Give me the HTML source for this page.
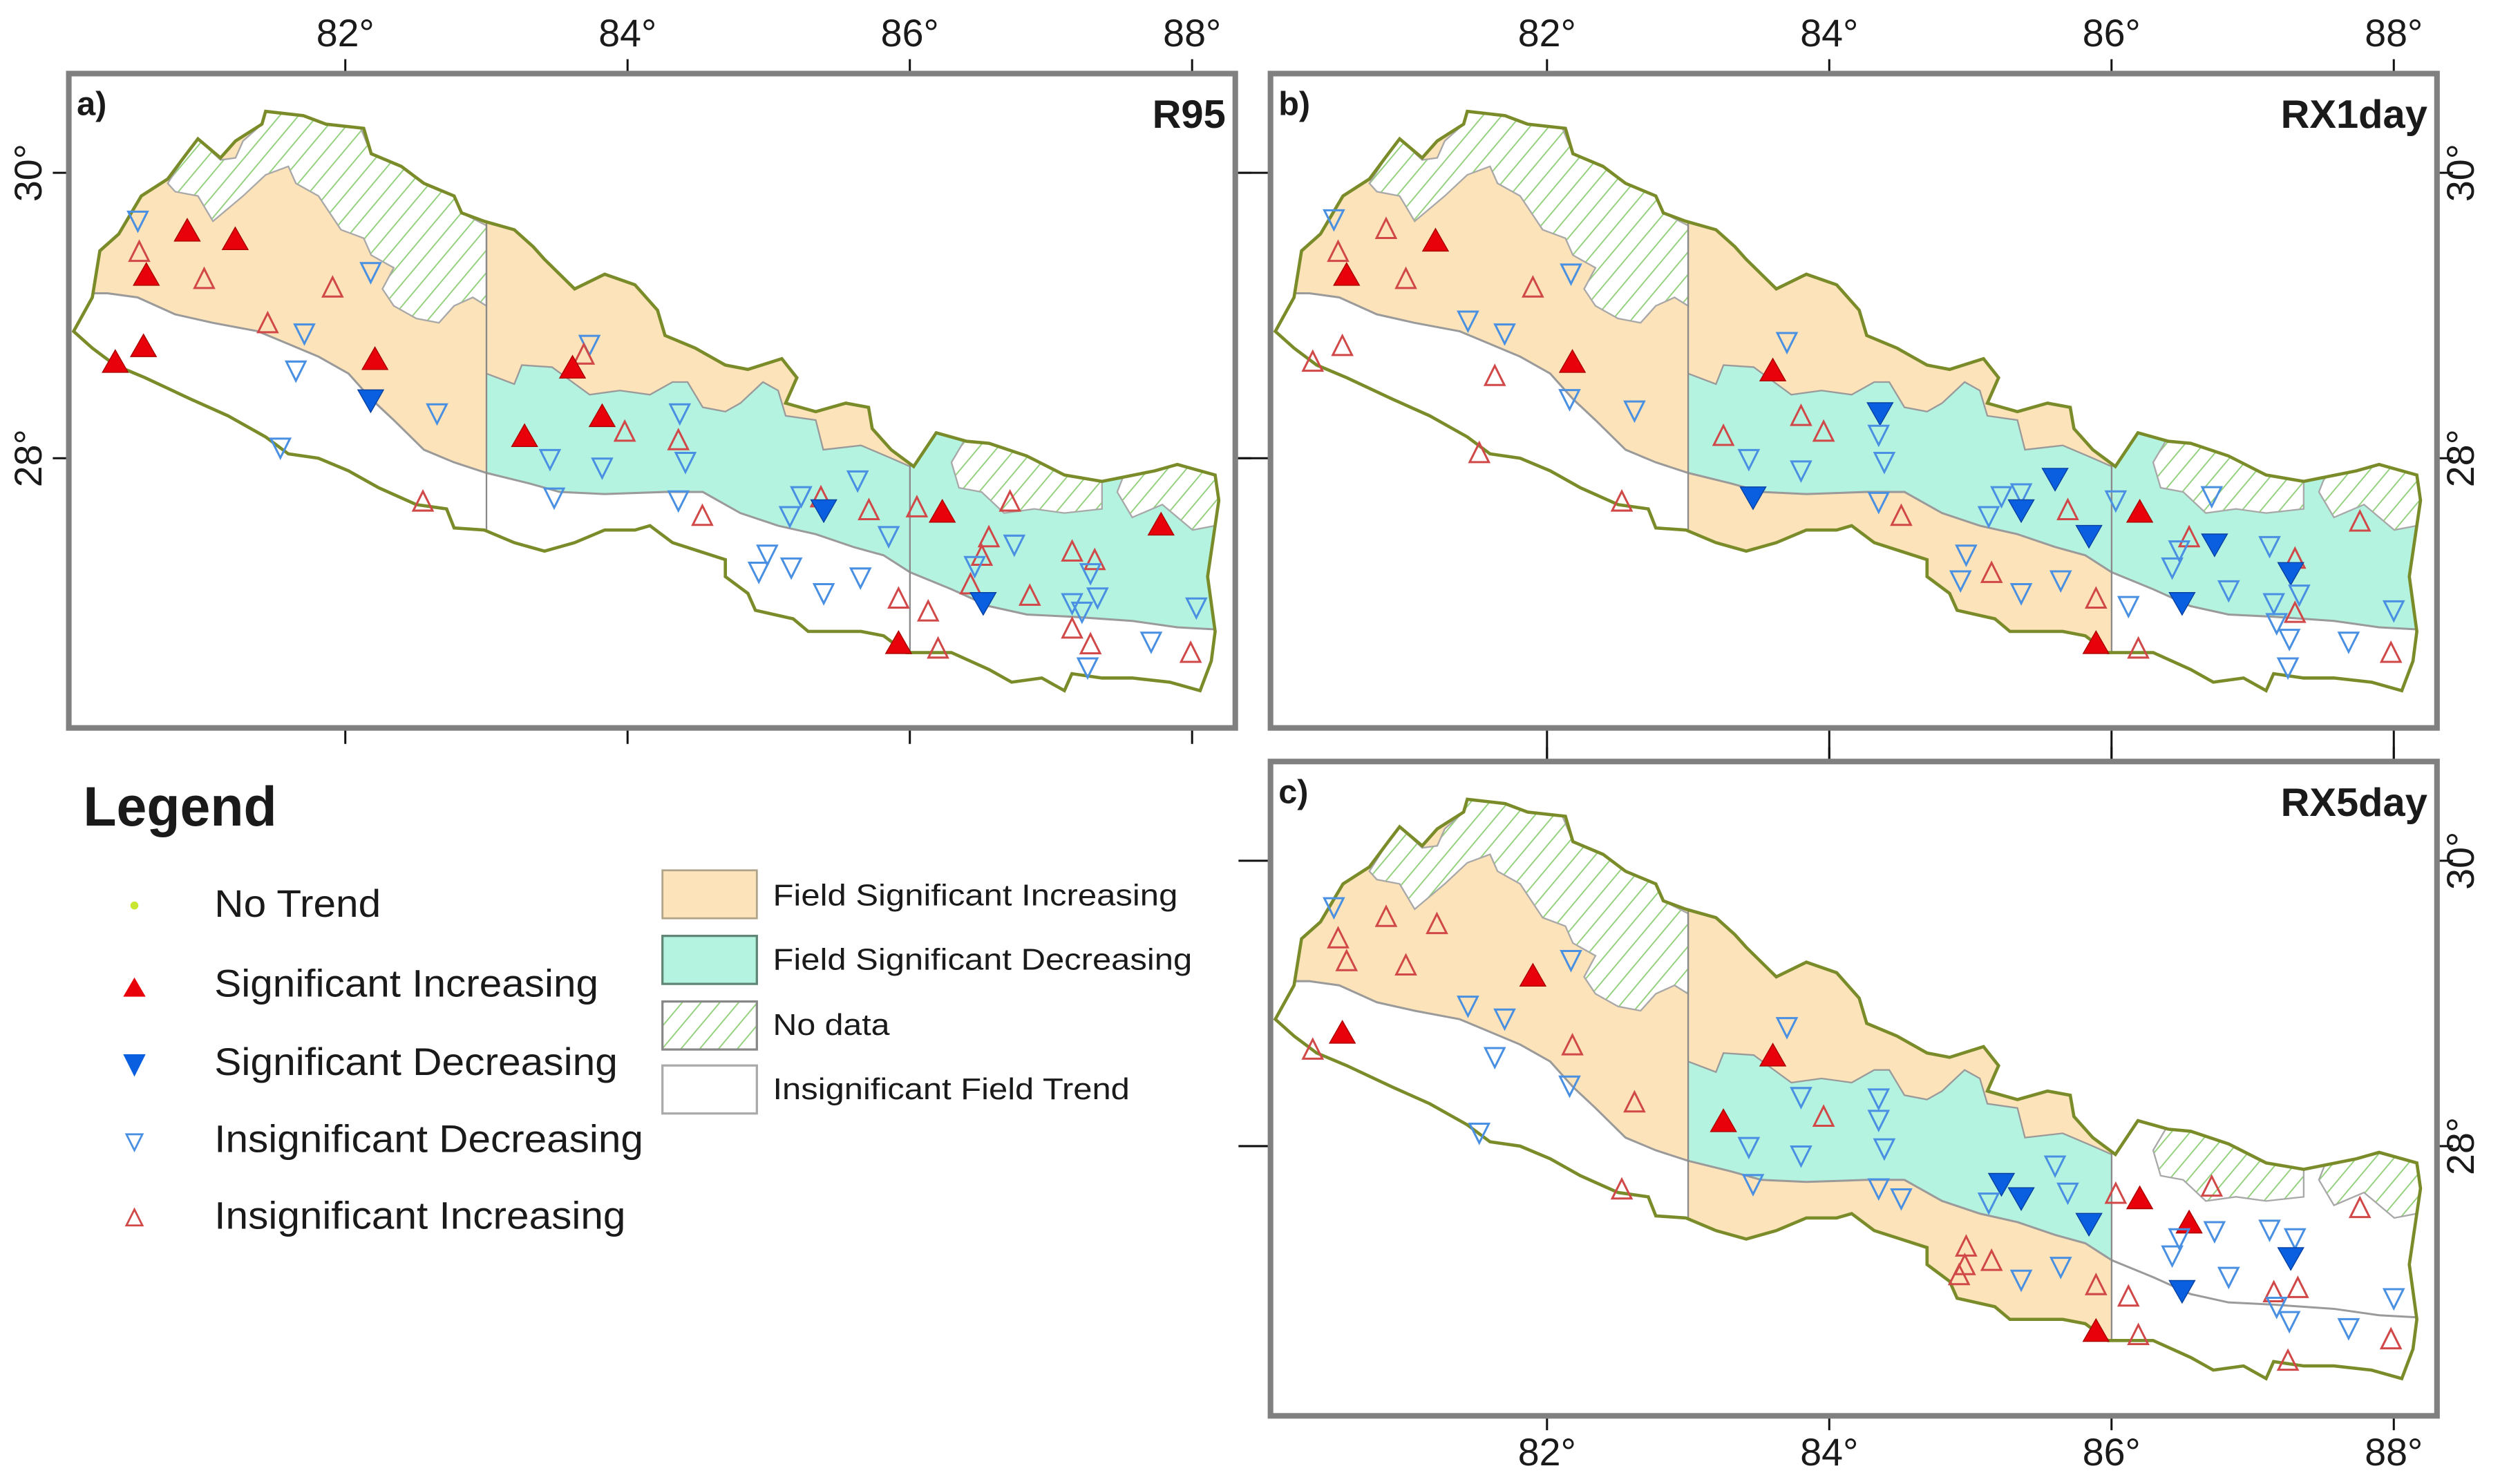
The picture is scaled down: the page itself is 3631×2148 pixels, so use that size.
<!DOCTYPE html>
<html><head><meta charset="utf-8"><style>
html,body{margin:0;padding:0;background:#fff}
svg{display:block}
text{font-family:"Liberation Sans",Arial,sans-serif;fill:#1a1a1a}
</style></head><body>
<svg id="fig" xmlns="http://www.w3.org/2000/svg" width="3631" height="2148" viewBox="0 0 1568 927.6" preserveAspectRatio="none">
<defs>
<pattern id="hatch" patternUnits="userSpaceOnUse" width="9" height="9" patternTransform="rotate(40)">
<rect width="9" height="9" fill="#fff"/><line x1="0" y1="0" x2="0" y2="9" stroke="#8fcf78" stroke-width="1.6"/>
</pattern>
</defs>
<g id="panels"></g>
<g id="legend">
<text x="52" y="516" font-size="35" font-weight="bold" textLength="121" lengthAdjust="spacingAndGlyphs">Legend</text>
<circle cx="84" cy="566" r="2.5" fill="#c8e632"/>
<text x="134" y="573" font-size="24" textLength="104" lengthAdjust="spacingAndGlyphs">No Trend</text>
<polygon points="77,623 91,623 84,611" fill="#e8000b"/>
<text x="134" y="623" font-size="24" textLength="240" lengthAdjust="spacingAndGlyphs">Significant Increasing</text>
<polygon points="77,659 91,659 84,673" fill="#0a5fe0"/>
<text x="134" y="672" font-size="24" textLength="252" lengthAdjust="spacingAndGlyphs">Significant Decreasing</text>
<polygon points="79,709 89,709 84,719" fill="none" stroke="#4a90e2" stroke-width="1.2"/>
<text x="134" y="720" font-size="24" textLength="268" lengthAdjust="spacingAndGlyphs">Insignificant Decreasing</text>
<polygon points="79,766 89,766 84,756" fill="none" stroke="#d04848" stroke-width="1.2"/>
<text x="134" y="768" font-size="24" textLength="257" lengthAdjust="spacingAndGlyphs">Insignificant Increasing</text>
<rect x="414" y="544" width="59" height="30" fill="#fde3b9" stroke="#b0a48a" stroke-width="1.2"/>
<text x="483" y="566" font-size="19" textLength="253" lengthAdjust="spacingAndGlyphs">Field Significant Increasing</text>
<rect x="414" y="585" width="59" height="30" fill="#b4f3e0" stroke="#5f8575" stroke-width="1.4"/>
<text x="483" y="606" font-size="19" textLength="262" lengthAdjust="spacingAndGlyphs">Field Significant Decreasing</text>
<rect x="414" y="626" width="59" height="30" fill="url(#hatch)" stroke="#888" stroke-width="1.4"/>
<text x="483" y="647" font-size="19" textLength="73" lengthAdjust="spacingAndGlyphs">No data</text>
<rect x="414" y="666" width="59" height="30" fill="#fff" stroke="#aaa" stroke-width="1.4"/>
<text x="483" y="687" font-size="19" textLength="223" lengthAdjust="spacingAndGlyphs">Insignificant Field Trend</text>
</g>
</svg>
<script>
// ---- data: station longitudes/latitudes and trend types per panel ----
const typesKey = ["SI","SD","ID","II"];
const aLon = [80.53,80.88,81.22,80.54,80.59,81.00,81.91,82.18,81.45,81.71,80.57,80.37,82.21,81.65,82.18,82.65,81.54,82.55,83.73,83.69,83.61,83.82,83.27,83.98,84.37,84.36,83.45,83.82,84.41,83.48,84.36,84.53,85.63,85.23,85.37,85.39,85.15,85.71,86.05,86.23,86.71,87.78,85.85,84.99,84.93,85.16,85.39,85.65,85.92,86.13,85.92,86.20,86.56,86.74,86.51,86.46,86.43,86.52,86.85,87.15,87.31,87.28,87.15,87.33,87.22,87.15,87.28,87.26,87.71,87.99,88.03];
const aLat = [29.66,29.60,29.54,29.45,29.29,29.26,29.20,29.30,28.95,28.87,28.79,28.68,28.70,28.61,28.40,28.31,28.07,27.70,28.79,28.73,28.64,28.30,28.16,28.19,28.31,28.13,27.99,27.93,27.97,27.72,27.70,27.60,27.84,27.73,27.73,27.63,27.59,27.64,27.66,27.63,27.70,27.54,27.45,27.32,27.20,27.23,27.05,27.16,27.02,26.93,26.71,26.67,27.45,27.39,27.32,27.24,27.12,26.98,27.04,27.35,27.29,27.19,26.98,27.02,26.92,26.81,26.70,26.53,26.71,26.64,26.95];
const aType = ["ID","SI","SI","II","SI","II","II","ID","II","ID","SI","SI","SI","ID","SD","ID","ID","II","ID","II","SI","SI","SI","II","ID","II","ID","ID","ID","ID","ID","II","ID","ID","II","SD","ID","II","II","SI","II","SI","ID","ID","ID","ID","ID","ID","II","II","SI","II","II","ID","II","ID","II","SD","II","II","II","ID","ID","ID","ID","II","II","ID","ID","II","ID"];
const bLon = [80.49,80.86,81.21,80.52,80.58,81.00,81.90,82.17,81.44,81.70,80.55,80.34,82.18,81.63,82.16,82.62,81.52,82.53,83.70,83.60,83.80,83.96,83.25,84.36,84.35,83.43,83.80,84.39,83.46,84.35,84.51,85.60,85.22,85.36,85.36,85.13,85.69,86.03,86.20,86.71,87.76,85.84,84.97,84.93,85.15,85.36,85.64,85.89,86.12,85.89,86.19,86.55,86.73,86.48,86.43,86.50,86.83,87.12,87.30,87.27,87.15,87.33,87.30,87.17,87.26,87.25,87.68,87.98,88.00];
const bLat = [29.67,29.61,29.53,29.45,29.29,29.26,29.20,29.29,28.96,28.87,28.79,28.68,28.68,28.58,28.41,28.33,28.04,27.70,28.81,28.62,28.30,28.19,28.16,28.31,28.16,27.99,27.91,27.97,27.72,27.69,27.60,27.85,27.73,27.75,27.63,27.59,27.64,27.70,27.63,27.73,27.56,27.45,27.32,27.14,27.20,27.05,27.14,27.02,26.96,26.71,26.67,27.45,27.39,27.35,27.23,26.98,27.07,27.38,27.30,27.19,26.98,27.04,26.92,26.84,26.73,26.53,26.71,26.64,26.93];
const bType = ["ID","II","SI","II","SI","II","II","ID","ID","ID","II","II","SI","II","ID","ID","II","II","ID","SI","II","II","II","SD","ID","ID","ID","ID","SD","ID","II","SD","ID","ID","SD","ID","II","ID","SI","ID","II","SD","ID","ID","II","ID","ID","II","ID","SI","II","II","SD","ID","ID","SD","ID","ID","II","SD","ID","ID","II","ID","ID","ID","ID","II","ID"];
const cLon = [80.49,80.86,81.22,80.52,80.58,81.00,81.90,82.17,81.44,81.70,80.55,80.34,82.18,81.63,82.16,82.62,81.52,82.53,83.70,83.60,83.80,83.96,83.25,84.35,84.35,83.43,83.80,84.39,83.46,84.35,84.51,85.60,85.22,85.36,85.13,85.69,85.84,86.03,86.20,86.71,87.76,86.55,86.73,86.48,86.43,86.50,86.83,87.12,87.30,87.27,84.97,84.96,84.92,85.15,85.36,85.64,85.89,86.12,85.89,86.19,87.15,87.32,87.17,87.26,87.25,87.68,87.98,88.00];
const cLat = [29.67,29.61,29.56,29.46,29.30,29.27,29.20,29.30,28.98,28.89,28.80,28.68,28.71,28.62,28.42,28.31,28.09,27.70,28.83,28.64,28.34,28.21,28.18,28.33,28.18,27.99,27.93,27.98,27.73,27.70,27.63,27.86,27.73,27.63,27.60,27.67,27.45,27.67,27.64,27.72,27.57,27.47,27.40,27.35,27.23,26.98,27.08,27.41,27.35,27.21,27.30,27.17,27.10,27.20,27.06,27.15,27.03,26.95,26.71,26.68,26.98,27.01,26.87,26.77,26.50,26.72,26.65,26.93];
const cType = ["ID","II","II","II","II","II","SI","ID","ID","ID","SI","II","II","ID","ID","II","ID","II","ID","SI","ID","II","SI","ID","ID","ID","ID","ID","ID","ID","ID","ID","SD","SD","ID","ID","SD","II","SI","II","II","SI","ID","ID","ID","SD","ID","ID","ID","SD","II","II","II","II","ID","ID","II","II","SI","II","II","II","ID","ID","II","ID","II","ID"];
const tickLons = [82,84,86,88];
const tickLats = [30,28];
const panelTitles = ["R95","RX1day","RX5day"];
const panelLetters = ["a)","b)","c)"];

// ---- geometry (map outline in normalised figure units) ----
const NS = "http://www.w3.org/2000/svg";
function Z(p){ return [38.9+0.4709*p[0], 43.2+0.2643*p[1]]; }
const outline = [[15,620],[40,540],[50,430],[75,390],[105,300],[140,260],[165,200],[180,165],[210,210],[230,170],[265,130],[270,100],[320,110],[350,130],[400,140],[410,200],[450,230],[480,270],[520,300],[530,340],[560,360],[600,380],[625,420],[640,450],[680,520],[720,485],[760,510],[790,570],[800,630],[840,660],[880,700],[910,710],[955,685],[975,730],[960,790],[1000,810],[1040,790],[1070,800],[1075,850],[1100,900],[1130,940],[1160,860],[1200,880],[1230,885],[1280,915],[1330,960],[1380,975],[1450,950],[1480,935],[1530,960],[1535,1020],[1520,1200],[1530,1330],[1525,1400],[1510,1470],[1470,1450],[1420,1440],[1380,1440],[1340,1430],[1330,1470],[1300,1440],[1260,1450],[1230,1420],[1180,1380],[1120,1380],[1090,1340],[1060,1330],[1020,1330],[990,1330],[970,1300],[920,1280],[910,1240],[880,1200],[880,1160],[845,1140],[810,1120],[780,1080],[760,1090],[720,1090],[680,1120],[640,1140],[600,1120],[560,1090],[520,1085],[510,1040],[470,1030],[420,990],[380,950],[340,920],[300,910],[270,870],[220,820],[170,780],[110,730],[70,700],[40,660]];
const G = [[-20,530],[60,530],[100,540],[150,580],[200,600],[260,620],[300,650],[340,680],[380,720],[410,780],[440,830],[480,900],[520,930],[563,955],[620,980],[660,1000],[720,1005],[800,1000],[850,1000],[870,1020],[900,1050],[950,1080],[1000,1100],[1050,1130],[1090,1150],[1125,1190],[1180,1230],[1230,1270],[1280,1290],[1340,1295],[1420,1305],[1480,1320],[1560,1328]];
const T = [[563,720],[600,745],[610,700],[650,705],[700,770],[740,760],[780,770],[810,740],[830,740],[850,800],[880,810],[900,790],[930,740],[950,760],[960,820],[1000,830],[1010,900],[1060,890],[1100,920],[1125,940]];
const hatchNW = [[140,270],[165,200],[180,165],[210,215],[230,210],[240,170],[265,130],[270,100],[320,110],[350,130],[395,135],[410,200],[450,230],[480,270],[520,300],[530,340],[563,370],[563,560],[545,540],[520,560],[500,600],[470,590],[440,560],[425,520],[440,470],[410,440],[400,400],[370,380],[340,300],[310,270],[300,230],[270,250],[240,300],[200,360],[180,300],[150,290]];
const hatchNE1 = [[1180,930],[1200,870],[1230,875],[1280,905],[1330,950],[1380,965],[1380,1040],[1330,1050],[1290,1040],[1250,1050],[1220,1000],[1190,990]];
const hatchNE2 = [[1410,955],[1480,925],[1545,950],[1530,1080],[1500,1090],[1460,1030],[1420,1060],[1400,1000]];

function lonX(lon){ return 304 + (lon-83)*88.2; }
function latY(lat){ return 286.4 - (lat-28)*89.2; }
function pts(arr,dx,dy){ return arr.map(p=>{const q=Z(p);return (q[0]+dx).toFixed(1)+","+(q[1]+dy).toFixed(1);}).join(" "); }
function mk(tag,attrs,parent){ const e=document.createElementNS(NS,tag); for(const k in attrs) e.setAttribute(k,attrs[k]); parent.appendChild(e); return e; }

const panelsG = document.getElementById("panels");
const offs = [[0,0],[751,0],[751,430]];
const schemes = [
  {centralSouth:"#fff", eastNorth:"#b4f3e0"},
  {centralSouth:"#fde3b9", eastNorth:"#b4f3e0"},
  {centralSouth:"#fde3b9", eastNorth:"#fff"}
];
const lonsArr=[aLon,bLon,cLon], latsArr=[aLat,bLat,cLat], typArr=[aType,bType,cType];
const ORANGE="#fde3b9", TEAL="#b4f3e0";

offs.forEach((o,pi)=>{
  const dx=o[0], dy=o[1];
  const g=mk("g",{},panelsG);
  
  
  const fx=43+dx, fy=46+dy, fw=729, fh=409;
  tickLons.forEach(l=>{
    const x=lonX(l)+dx;
    const t1=mk("line",{x1:x,y1:fy-9,x2:x,y2:fy,stroke:"#111","stroke-width":1.3},g);
     
    const t2=mk("line",{x1:x,y1:fy+fh,x2:x,y2:fy+fh+(pi===0?10:(pi===1?20:9)),stroke:"#111","stroke-width":1.3},g);
     
    if(pi<2){
      const tx=mk("text",{x:x,y:29,"font-size":24,"text-anchor":"middle"},g); tx.textContent=l+"°";
       
    }
    if(pi===2){
      const tx=mk("text",{x:x,y:916,"font-size":24,"text-anchor":"middle"},g); tx.textContent=l+"°";
       
    }
  });
  tickLats.forEach(l=>{
    const y=latY(l)+dy;
    const t1=mk("line",{x1:fx-(pi===0?10:20),y1:y,x2:fx,y2:y,stroke:"#111","stroke-width":1.3},g);
     
    const t2=mk("line",{x1:fx+fw,y1:y,x2:fx+fw+10,y2:y,stroke:"#111","stroke-width":1.3},g);
     
    if(pi===0){
      const tx=mk("text",{x:0,y:0,"font-size":24,"text-anchor":"middle",transform:"translate(26,"+y+") rotate(-90)"},g); tx.textContent=l+"°";
       
    } else {
      const tx=mk("text",{x:0,y:0,"font-size":24,"text-anchor":"middle",transform:"translate(1546,"+y+") rotate(-90)"},g); tx.textContent=l+"°";
       
    }
  });
  const cp=mk("clipPath",{id:"clip"+pi},g);
  mk("polygon",{points:pts(outline,dx,dy)},cp);
  const mg=mk("g",{"clip-path":"url(#clip"+pi+")"},g);
   
  const sc=schemes[pi];
  mk("polygon",{points:pts(outline,dx,dy),fill:"#fff"},mg);
  const north=G.concat([[1600,-200],[-50,-200]]);
  const cpW=mk("clipPath",{id:"cw"+pi},g); mk("rect",{x:Z([-50,0])[0]+dx,y:0,width:Z([563,0])[0]-Z([-50,0])[0],height:1000},cpW);
  const cpC=mk("clipPath",{id:"cc"+pi},g); mk("rect",{x:Z([563,0])[0]+dx,y:0,width:Z([1125,0])[0]-Z([563,0])[0],height:1000},cpC);
  const cpE=mk("clipPath",{id:"ce"+pi},g); mk("rect",{x:Z([1125,0])[0]+dx,y:0,width:400,height:1000},cpE);
  const wg=mk("g",{"clip-path":"url(#cw"+pi+")"},mg);
  mk("polygon",{points:pts(north,dx,dy),fill:ORANGE},wg);
  const cg=mk("g",{"clip-path":"url(#cc"+pi+")"},mg);
  mk("rect",{x:dx,y:dy,width:800,height:460,fill:sc.centralSouth},cg);
  mk("polygon",{points:pts(north,dx,dy),fill:ORANGE},cg);
  const band=T.concat(G.filter(p=>p[0]>=563&&p[0]<=1125).reverse());
  const bp=mk("polygon",{points:pts(band,dx,dy),fill:TEAL},cg);
   
  const eg=mk("g",{"clip-path":"url(#ce"+pi+")"},mg);
  mk("polygon",{points:pts(north,dx,dy),fill:sc.eastNorth},eg);
  [hatchNW,hatchNE1,hatchNE2].forEach(h=>{
    const hp=mk("polygon",{points:pts(h,dx,dy),fill:"url(#hatch)",stroke:"#a8a8a8","stroke-width":1},mg);
     
  });
  mk("polyline",{points:pts(G,dx,dy),fill:"none",stroke:"#9a9a9a","stroke-width":1.3},mg);
  mk("polyline",{points:pts(T,dx,dy),fill:"none",stroke:"#9a9a9a","stroke-width":1},mg);
  [563,1125].forEach(X=>{ mk("line",{x1:Z([X,0])[0]+dx,y1:dy,x2:Z([X,0])[0]+dx,y2:dy+460,stroke:"#8a8a8a","stroke-width":1},mg); });
  const ol=mk("polygon",{points:pts(outline,dx,dy),fill:"none",stroke:"#7a8c2a","stroke-width":2},g);
   
  const lons=lonsArr[pi], lats=latsArr[pi], types=typArr[pi];
  lons.forEach((lon,i)=>{
    const x=lonX(lon)+dx, y=latY(lats[i])+dy, t=types[i];
    let p;
    if(t==="SI"){ p=mk("polygon",{points:`${x-8},${y+7} ${x+8},${y+7} ${x},${y-7}`,fill:"#e8000b",stroke:"#a00","stroke-width":0.6},g); }
    else if(t==="SD"){ p=mk("polygon",{points:`${x-8},${y-7} ${x+8},${y-7} ${x},${y+7}`,fill:"#0a5fe0",stroke:"#0840a0","stroke-width":0.6},g); }
    else if(t==="ID"){ p=mk("polygon",{points:`${x-6},${y-6} ${x+6},${y-6} ${x},${y+6}`,fill:"none",stroke:"#4a90e2","stroke-width":1.3},g); }
    else { p=mk("polygon",{points:`${x-6},${y+6} ${x+6},${y+6} ${x},${y-6}`,fill:"none",stroke:"#d04848","stroke-width":1.3},g); }
    
    
  });
  const fr=mk("rect",{x:fx,y:fy,width:fw,height:fh,fill:"none",stroke:"#808080","stroke-width":3.5},g);
   
  const lt=mk("text",{x:fx+5,y:fy+26,"font-size":21,"font-weight":"bold"},g); lt.textContent=panelLetters[pi];
   
  const tt=mk("text",{x:fx+fw-6,y:fy+34,"font-size":25,"font-weight":"bold","text-anchor":"end"},g); tt.textContent=panelTitles[pi];
   
});
</script>
</body></html>
